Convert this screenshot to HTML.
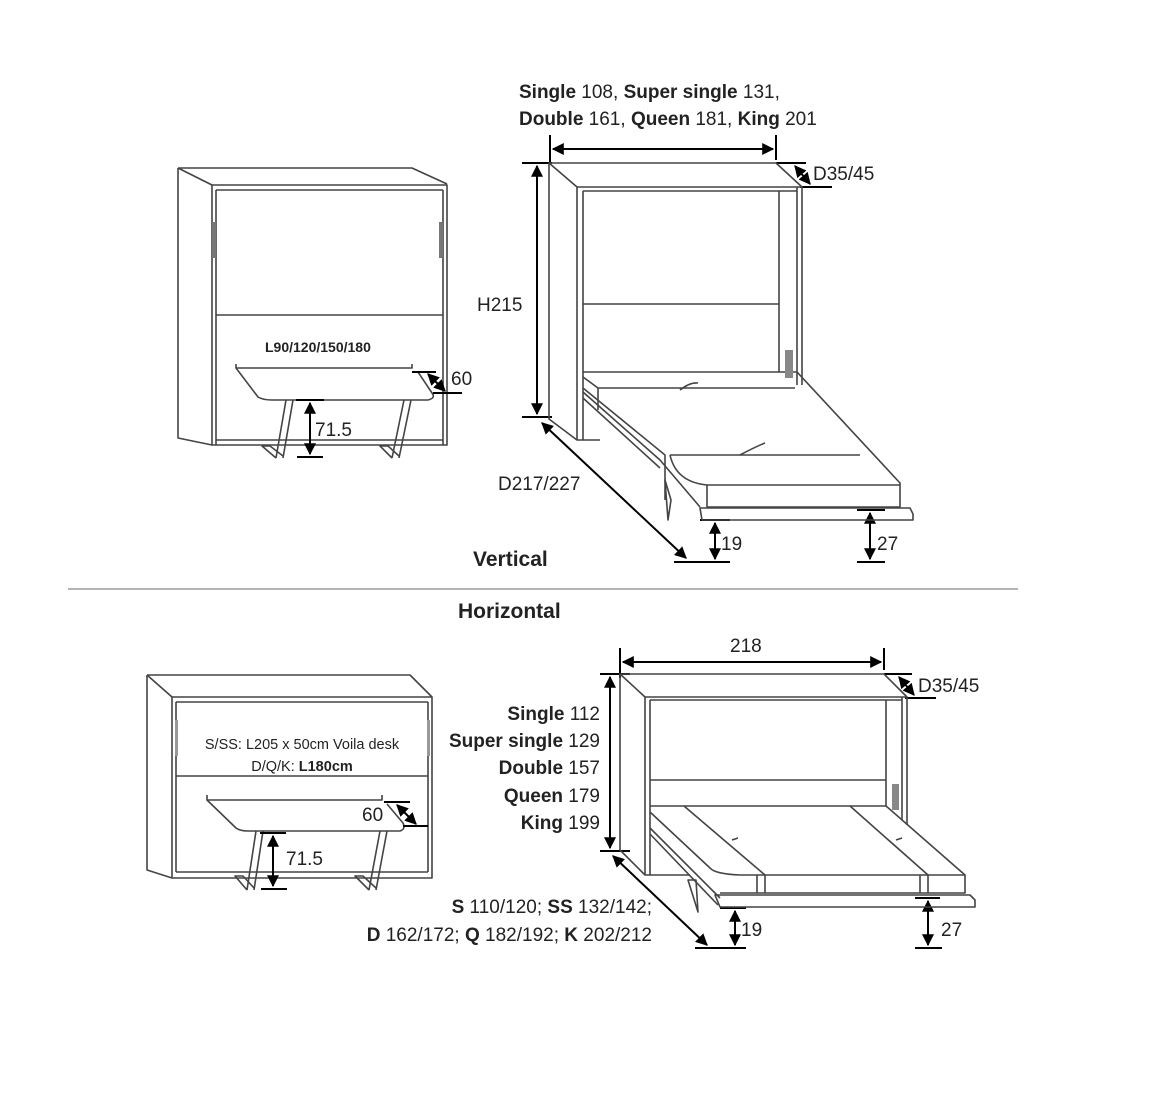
<!DOCTYPE html>
<html><head><meta charset="utf-8"><style>
html,body{margin:0;padding:0;background:#fff;}
svg{display:block;font-family:"Liberation Sans","DejaVu Sans",sans-serif;}
.l{fill:none;stroke:#444;stroke-width:1.6;stroke-linejoin:round}
.d{fill:none;stroke:#000;stroke-width:2}
.t{fill:#222;font-size:19px}
.b{font-weight:bold}
</style></head><body>
<svg width="1170" height="1098" viewBox="0 0 1170 1098">
<defs>
<marker id="a" viewBox="0 0 10 10" refX="9" refY="5" markerWidth="6" markerHeight="6" orient="auto-start-reverse"><path d="M0,0 L10,5 L0,10 z" fill="#000"/></marker>
</defs>

<!-- ===== Top-left cabinet ===== -->
<g class="l">
<path d="M178,168 L412,168 L447,184 M178,168 L212,185"/>
<rect x="212" y="185" width="235" height="260"/>
<path d="M178,168 L178,438 L212,445"/>
<path d="M216,190 L443,190 M216,190 L216,445 M443,190 L443,445"/>
<path d="M216,315 L443,315"/>
<path d="M216,440 L443,440"/>
<path d="M236,364 L236,368 L412,368 L412,364"/>
<path d="M236,368 L258,397 Q263,400 272,400 L428,400 Q436,398 432,393 L418,372"/>
<path d="M286,400 L276,458 M293,400 L283,458 M276,458 L262,446 L270,446 L283,456"/>
<path d="M404,400 L392,458 M411,400 L399,458 M392,458 L380,446 L388,446 L399,456"/>
</g>
<rect x="212" y="222" width="4" height="36" fill="#777"/>
<rect x="439" y="222" width="4" height="36" fill="#777"/>
<text x="265" y="352" class="t b" style="font-size:14px">L90/120/150/180</text>
<g class="d">
<path d="M296,400 L324,400 M297,457 L323,457"/>
<path d="M310,403 L310,454" marker-start="url(#a)" marker-end="url(#a)"/>
<path d="M412,372 L436,372 M433,393 L462,393"/>
<path d="M428,374 L445,391" marker-start="url(#a)" marker-end="url(#a)"/>
</g>
<text x="315" y="436" class="t">71.5</text>
<text x="451" y="385" class="t">60</text>

<!-- ===== Top-right vertical bed ===== -->
<text x="519" y="98" class="t"><tspan class="b">Single</tspan> 108, <tspan class="b">Super single</tspan> 131,</text>
<text x="519" y="125" class="t"><tspan class="b">Double</tspan> 161, <tspan class="b">Queen</tspan> 181, <tspan class="b">King</tspan> 201</text>
<g class="d">
<path d="M550,135 L550,162 M776,135 L776,160"/>
<path d="M553,149 L773,149" marker-start="url(#a)" marker-end="url(#a)"/>
<path d="M522,163 L552,163 M522,417 L552,417"/>
<path d="M537,166 L537,414" marker-start="url(#a)" marker-end="url(#a)"/>
<path d="M776,163 L806,163 M800,187 L832,187"/>
<path d="M795,166 L810,184" marker-start="url(#a)" marker-end="url(#a)"/>
<path d="M542,423 L686,558" marker-start="url(#a)" marker-end="url(#a)"/>
<path d="M674,562 L730,562 M700,520 L730,520"/>
<path d="M715,523 L715,559" marker-start="url(#a)" marker-end="url(#a)"/>
<path d="M857,510 L885,510 M857,562 L885,562"/>
<path d="M870,513 L870,559" marker-start="url(#a)" marker-end="url(#a)"/>
</g>
<text x="477" y="311" class="t">H215</text>
<text x="813" y="180" class="t">D35/45</text>
<text x="498" y="490" class="t">D217/227</text>
<text x="721" y="550" class="t">19</text>
<text x="877" y="550" class="t">27</text>
<g class="l">
<path d="M549,163 L776,163 L802,187 L577,187 Z"/>
<path d="M549,163 L549,419 L577,440 M577,187 L577,440 L600,440"/>
<path d="M583,191 L797,191 M583,191 L583,440 M779,191 L779,372 M797,187 L797,385 M802,187 L802,385"/>
<path d="M583,304 L779,304"/>
<path d="M583,372 L797,372 L900,483 L900,507 L707,507 L707,485 L900,485"/>
<path d="M583,377 L598,388 L795,388 M598,388 L598,410"/>
<path d="M583,388 L665,455 L665,500 M670,455 L860,455"/>
<path d="M583,392 L660,460 L700,507 M583,398 L660,468"/>
<path d="M670,455 Q676,482 707,485"/>
<path d="M700,508 L910,508 L913,514 L913,520 L702,520 Z"/>
<path d="M665,480 L668,520 L671,500 Z"/>
<path d="M680,390 Q690,382 698,383 M740,455 Q755,447 765,443"/>
</g>
<rect x="785" y="350" width="8" height="28" fill="#888"/>

<text x="473" y="566" class="t b" style="font-size:21px">Vertical</text>
<line x1="68" y1="589" x2="1018" y2="589" stroke="#888" stroke-width="1.2"/>
<text x="458" y="618" class="t b" style="font-size:21px">Horizontal</text>

<!-- ===== Bottom-left cabinet ===== -->
<g class="l">
<path d="M147,675 L410,675 L432,697 M147,675 L172,697"/>
<rect x="172" y="697" width="260" height="181"/>
<path d="M147,675 L147,870 L172,878"/>
<path d="M176,702 L428,702 M176,702 L176,872 M428,702 L428,872 M176,872 L428,872"/>
<path d="M176,776 L428,776"/>
<path d="M207,795 L207,800 L382,800 L382,795"/>
<path d="M207,800 L236,828 Q240,831 248,831 L400,831 Q406,829 403,823 L387,804"/>
<path d="M256,831 L247,890 M263,831 L254,890 M247,890 L235,876 L243,876 L254,888"/>
<path d="M380,831 L369,890 M387,831 L376,890 M369,890 L355,876 L363,876 L376,888"/>
</g>
<rect x="175" y="720" width="3" height="36" fill="#999"/>
<rect x="427" y="720" width="3" height="36" fill="#999"/>
<text x="302" y="749" class="t" text-anchor="middle" style="font-size:14.5px">S/SS: L205 x 50cm Voila desk</text>
<text x="302" y="771" class="t" text-anchor="middle" style="font-size:14.5px">D/Q/K: <tspan class="b">L180cm</tspan></text>
<g class="d">
<path d="M260,833 L286,833 M261,889 L287,889"/>
<path d="M273,836 L273,886" marker-start="url(#a)" marker-end="url(#a)"/>
<path d="M384,802 L410,802 M403,826 L428,826"/>
<path d="M397,805 L416,824" marker-start="url(#a)" marker-end="url(#a)"/>
</g>
<text x="286" y="865" class="t">71.5</text>
<text x="362" y="821" class="t">60</text>

<!-- ===== Bottom-right horizontal bed ===== -->
<g class="d">
<path d="M620,648 L620,678 M884,648 L884,670"/>
<path d="M623,662 L881,662" marker-start="url(#a)" marker-end="url(#a)"/>
<path d="M600,674 L630,674 M600,851 L630,851"/>
<path d="M610,677 L610,848" marker-start="url(#a)" marker-end="url(#a)"/>
<path d="M884,674 L912,674 M905,698 L936,698"/>
<path d="M899,677 L914,695" marker-start="url(#a)" marker-end="url(#a)"/>
<path d="M613,856 L707,945" marker-start="url(#a)" marker-end="url(#a)"/>
<path d="M695,948 L746,948 M720,908 L746,908"/>
<path d="M735,911 L735,945" marker-start="url(#a)" marker-end="url(#a)"/>
<path d="M915,898 L940,898 M915,948 L942,948"/>
<path d="M928,901 L928,945" marker-start="url(#a)" marker-end="url(#a)"/>
</g>
<text x="730" y="652" class="t">218</text>
<text x="918" y="692" class="t">D35/45</text>
<text x="600" y="720" class="t" text-anchor="end"><tspan class="b">Single</tspan> 112</text>
<text x="600" y="747" class="t" text-anchor="end"><tspan class="b">Super single</tspan> 129</text>
<text x="600" y="774" class="t" text-anchor="end"><tspan class="b">Double</tspan> 157</text>
<text x="600" y="802" class="t" text-anchor="end"><tspan class="b">Queen</tspan> 179</text>
<text x="600" y="829" class="t" text-anchor="end"><tspan class="b">King</tspan> 199</text>
<text x="652" y="913" class="t" text-anchor="end"><tspan class="b">S</tspan> 110/120; <tspan class="b">SS</tspan> 132/142;</text>
<text x="652" y="941" class="t" text-anchor="end"><tspan class="b">D</tspan> 162/172; <tspan class="b">Q</tspan> 182/192; <tspan class="b">K</tspan> 202/212</text>
<text x="741" y="936" class="t">19</text>
<text x="941" y="936" class="t">27</text>
<g class="l">
<path d="M620,674 L884,674 L907,697 L645,697 Z"/>
<path d="M620,674 L620,850 L645,875 M645,697 L645,875 L690,875"/>
<path d="M650,700 L902,700 M650,700 L650,875 M886,700 L886,806 M902,697 L902,820 M907,697 L907,825"/>
<path d="M650,780 L886,780"/>
<path d="M650,806 L886,806 L965,875 L965,893 L720,893"/>
<path d="M650,812 L710,868 Q715,874 740,875 L965,875"/>
<path d="M684,806 L765,875 L765,893 M850,806 L928,875 L928,893 M757,875 L757,893 M920,875 L920,893"/>
<path d="M650,828 L720,898 M650,834 L718,905"/>
<path d="M715,895 L970,895 L975,900 L975,907 L720,907 Z"/>
<path d="M688,880 L698,912 L696,880 Z"/>
<path d="M732,840 L738,838 M896,840 L902,838"/>
</g>
<rect x="892" y="784" width="7" height="26" fill="#888"/>
</svg>
</body></html>
